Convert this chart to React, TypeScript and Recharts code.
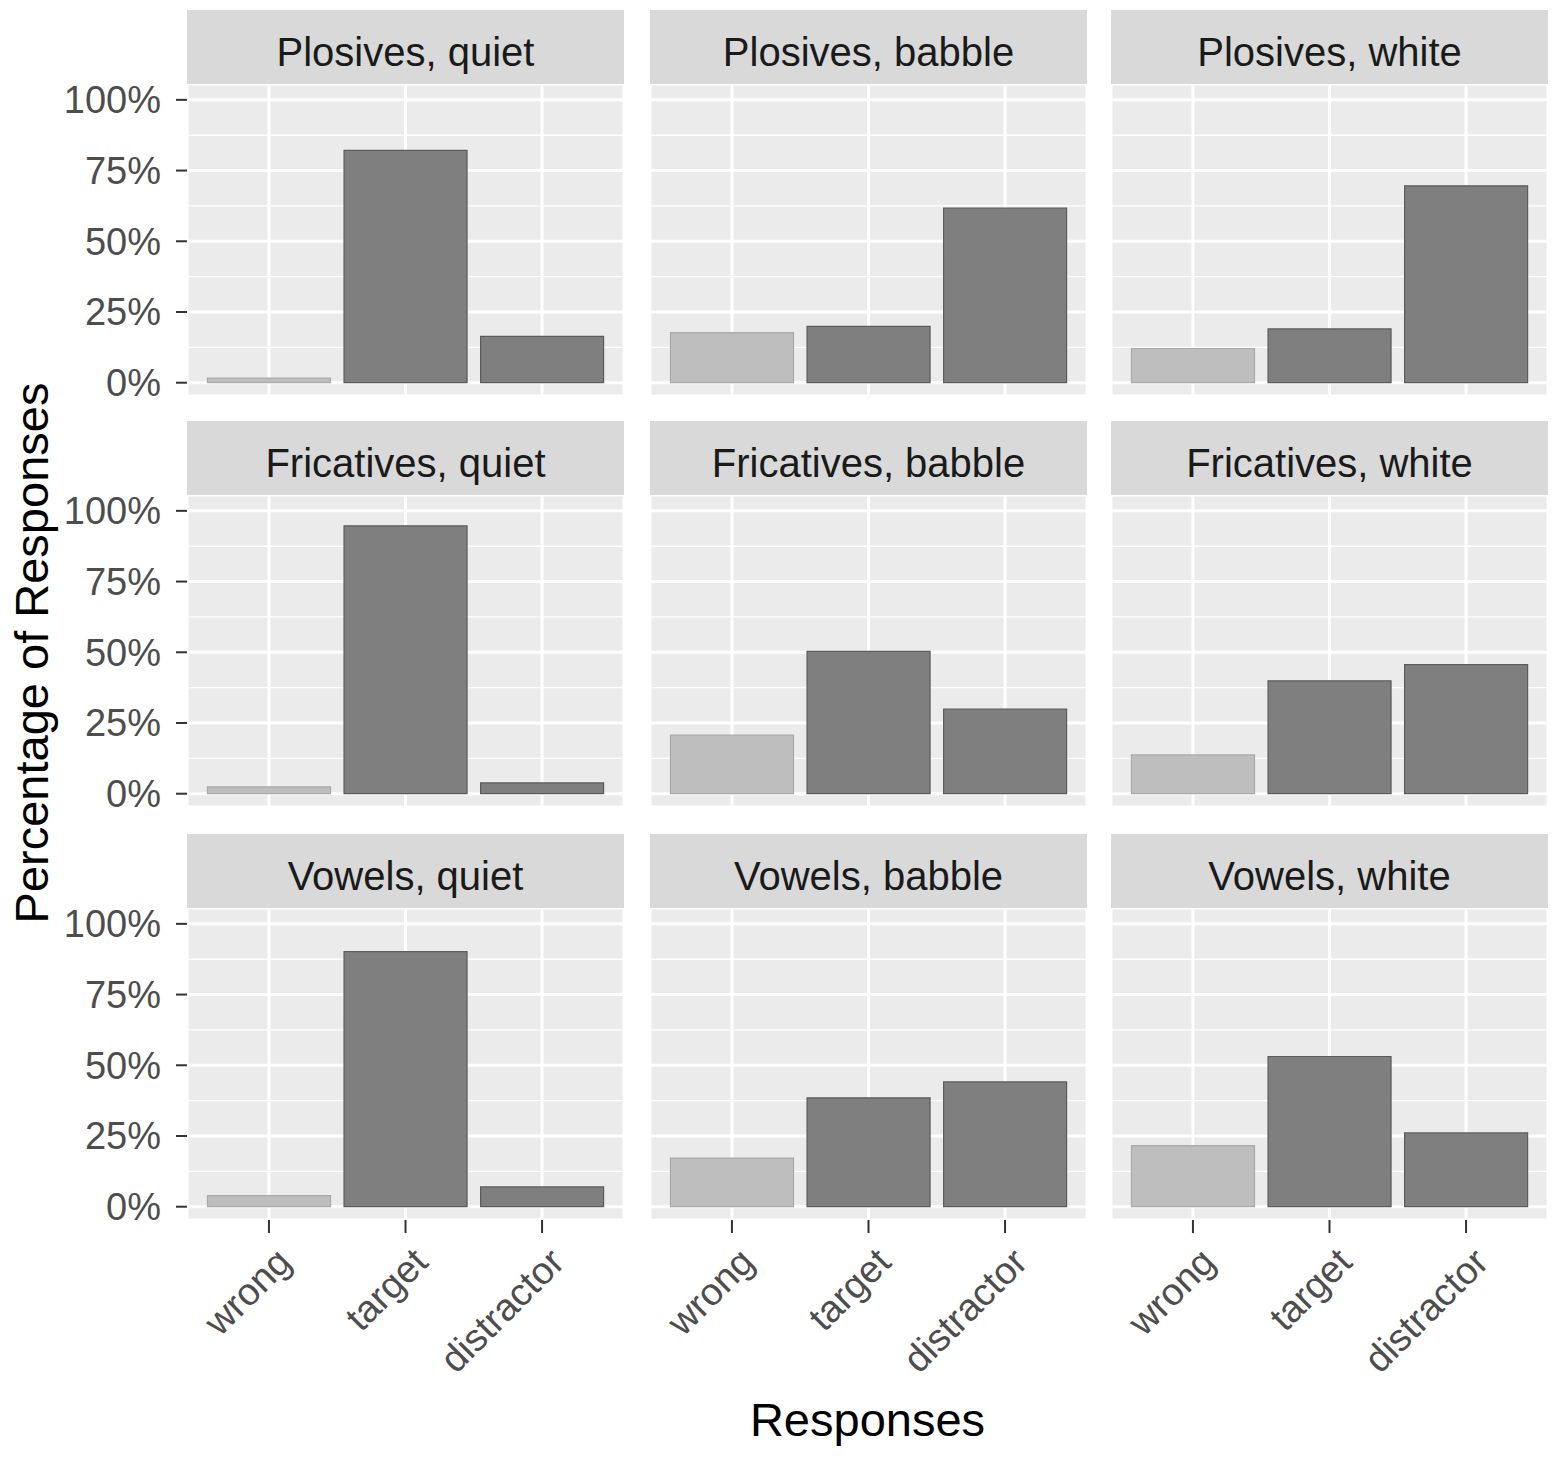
import React from 'react';
import { BarChart, Bar, XAxis, YAxis, CartesianGrid, Cell } from 'recharts';

const responses = ['wrong', 'target', 'distractor'];
const rowNames = ['Plosives', 'Fricatives', 'Vowels'];
const colNames = ['quiet', 'babble', 'white'];

// percentages (wrong, target, distractor)
const plosivesQuiet = [1.6, 82.1, 16.4];
const plosivesBabble = [17.7, 19.9, 61.7];
const plosivesWhite = [12.1, 19.0, 69.6];
const fricativesQuiet = [2.4, 94.7, 3.8];
const fricativesBabble = [20.7, 50.3, 29.9];
const fricativesWhite = [13.7, 39.9, 45.6];
const vowelsQuiet = [3.9, 90.2, 7.0];
const vowelsBabble = [17.2, 38.5, 44.1];
const vowelsWhite = [21.6, 53.1, 26.1];

const majorTicks = [0, 25, 50, 75, 100];
const minorTicks = [12.5, 37.5, 62.5, 87.5];

const panelValues = [
  [plosivesQuiet, plosivesBabble, plosivesWhite],
  [fricativesQuiet, fricativesBabble, fricativesWhite],
  [vowelsQuiet, vowelsBabble, vowelsWhite],
];

const FONT = '"Liberation Sans", Arial, Helvetica, sans-serif';
const colX = [187, 650, 1111];
const stripTop = [10, 421, 834];
const panelW = 437;
const stripH = 74;
const plotH = 312;
const yAxisW = 147;
const xAxisH = 200;
const vPad = 24; // room above/below the panel so edge tick labels are not clipped
const domain = [-4.7, 105.6];

const XTick = (props: any) => {
  const { x, y, payload } = props;
  return (
    <g transform={`translate(${x + 5},${y})`}>
      <text
        transform="rotate(-45)"
        textAnchor="end"
        dy="0.72em"
        fontSize={38}
        fill="#4d4d4d"
        fontFamily={FONT}
      >
        {payload.value}
      </text>
    </g>
  );
};

const Panel = ({ row, col }: { row: number; col: number }) => {
  const values = panelValues[row][col];
  const data = responses.map((r, i) => ({ resp: r, pct: values[i] }));
  const showY = col === 0;
  const showX = row === 2;
  const left = colX[col] - (showY ? yAxisW : 0);
  const width = panelW + (showY ? yAxisW : 0);
  const height = plotH + 2 * vPad + (showX ? xAxisH : 0);
  const pad = panelW / 32;

  return (
    <div style={{ position: 'absolute', left, top: stripTop[row] + stripH - vPad }}>
      <BarChart
        width={width}
        height={height}
        data={data}
        margin={{ top: vPad, right: 0, bottom: vPad, left: 0 }}
        barCategoryGap="5%"
      >
        <CartesianGrid fill="#ebebeb" stroke="#ffffff" strokeWidth={3} />
        <CartesianGrid
          yAxisId="minor"
          vertical={false}
          stroke="#ffffff"
          strokeWidth={1.4}
        />
        <XAxis
          dataKey="resp"
          hide={!showX}
          height={showX ? xAxisH : 0}
          padding={{ left: pad, right: pad }}
          axisLine={false}
          tickLine={{ stroke: '#333333', strokeWidth: 2 }}
          tickSize={13}
          tickMargin={12}
          tick={<XTick />}
          interval={0}
        />
        <YAxis
          domain={domain}
          ticks={majorTicks}
          interval={0}
          allowDataOverflow
          hide={!showY}
          width={showY ? yAxisW : 0}
          axisLine={false}
          tickLine={{ stroke: '#333333', strokeWidth: 2 }}
          tickSize={11}
          tickMargin={15}
          tickFormatter={(v) => `${v}%`}
          tick={{ fontSize: 38, fill: '#4d4d4d', fontFamily: FONT }}
        />
        <YAxis
          yAxisId="minor"
          domain={domain}
          ticks={minorTicks}
          interval={0}
          allowDataOverflow
          hide
        />
        <Bar dataKey="pct" isAnimationActive={false}>
          {data.map((d) => (
            <Cell
              key={d.resp}
              fill={d.resp === 'wrong' ? '#bebebe' : '#7f7f7f'}
              stroke={d.resp === 'wrong' ? '#a9a9a9' : '#5c5c5c'}
              strokeWidth={1.2}
            />
          ))}
        </Bar>
      </BarChart>
    </div>
  );
};

export default function App() {
  return (
    <div
      style={{
        position: 'absolute',
        left: 0,
        top: 0,
        width: 1559,
        height: 1460,
        background: '#ffffff',
        fontFamily: FONT,
        overflow: 'hidden',
      }}
    >
      {rowNames.map((rn, r) =>
        colNames.map((cn, c) => (
          <React.Fragment key={`${r}-${c}`}>
            <Panel row={r} col={c} />
            <div
              style={{
                position: 'absolute',
                left: colX[c],
                top: stripTop[r],
                width: panelW,
                height: stripH,
                overflow: 'hidden',
                background: '#d9d9d9',
                color: '#1a1a1a',
                fontSize: 40,
                lineHeight: `${stripH + 10}px`,
                textAlign: 'center',
              }}
            >
              {`${rn}, ${cn}`}
            </div>
          </React.Fragment>
        ))
      )}
      <div
        style={{
          position: 'absolute',
          left: 31,
          top: 653,
          transform: 'translate(-50%, -50%) rotate(-90deg)',
          whiteSpace: 'nowrap',
          fontSize: 47,
          lineHeight: '47px',
          color: '#000000',
        }}
      >
        Percentage of Responses
      </div>
      <div
        style={{
          position: 'absolute',
          left: colX[0],
          width: colX[2] + panelW - colX[0],
          top: 1396,
          textAlign: 'center',
          fontSize: 47,
          lineHeight: '47px',
          color: '#000000',
        }}
      >
        Responses
      </div>
    </div>
  );
}
